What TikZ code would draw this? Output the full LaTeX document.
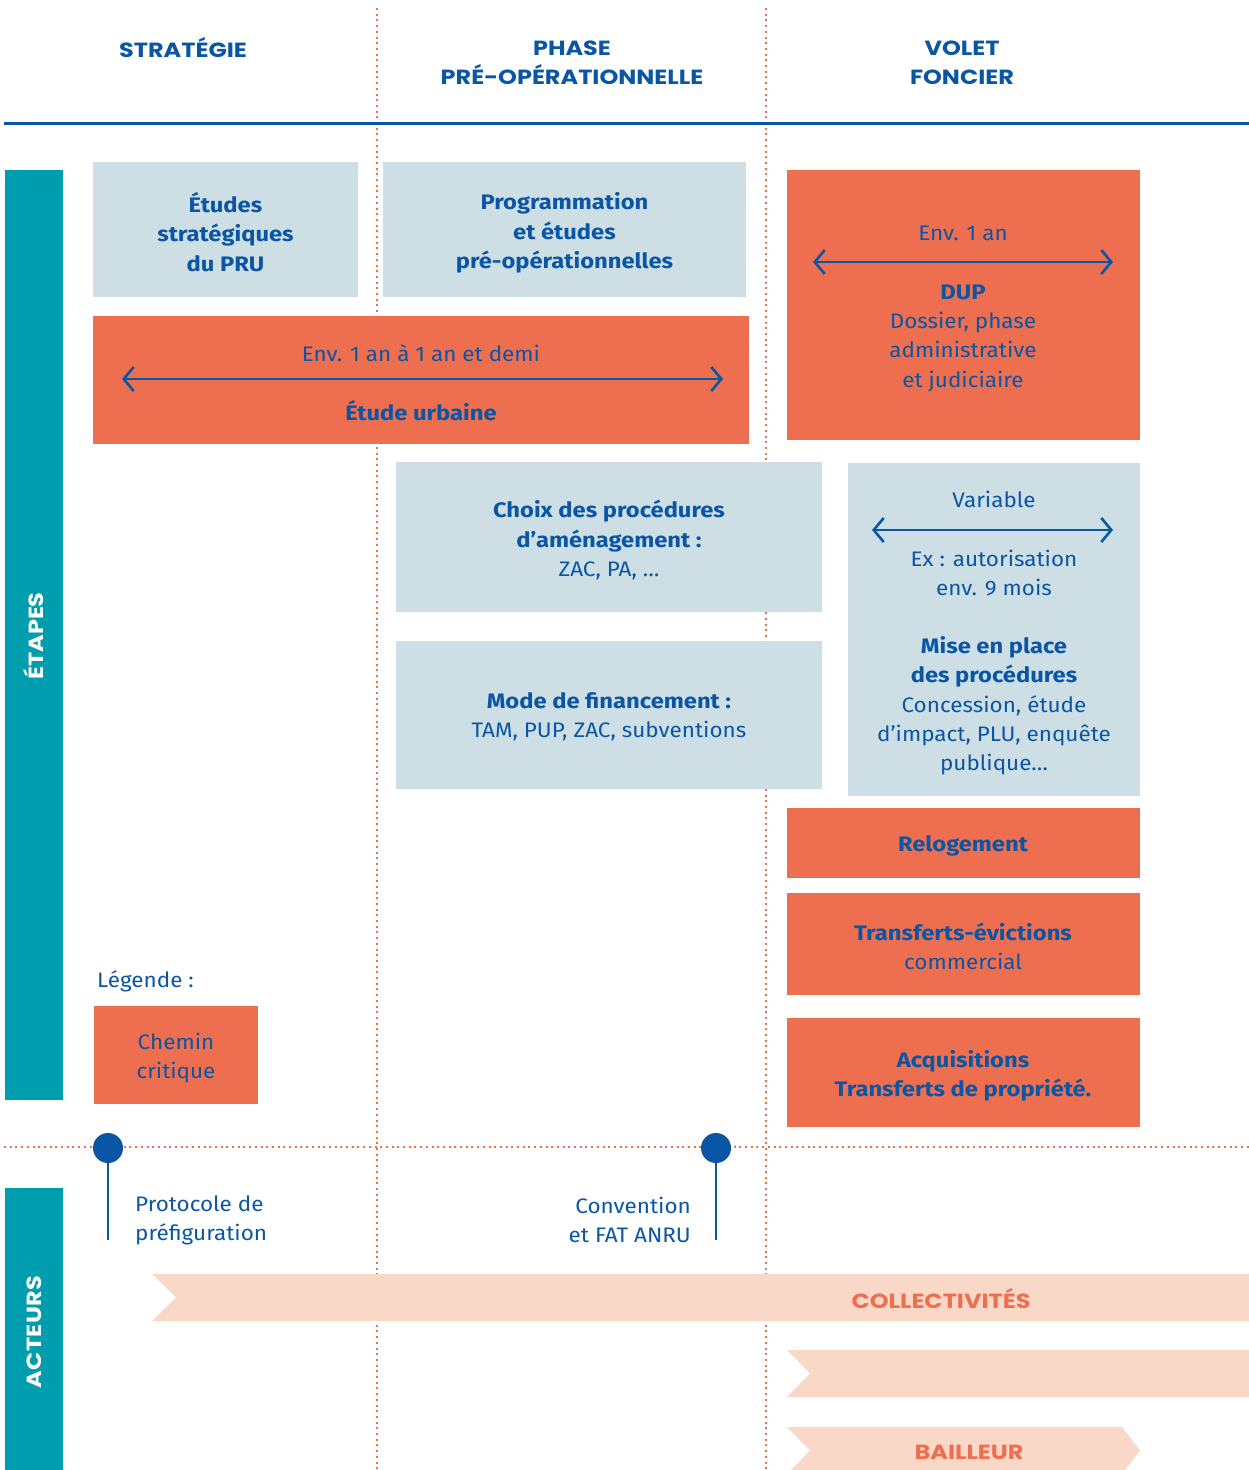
\documentclass[tikz,border=0pt]{standalone}
\usepackage{fontspec}
\setmainfont{Fira Sans}[FakeStretch=1.07, BoldFeatures={FakeStretch=1.13}]
\newfontfamily\hdrfont{Poppins}[FakeStretch=1.17]
\usetikzlibrary{arrows.meta}
\definecolor{cblue}{HTML}{0B56A4}
\definecolor{corange}{HTML}{EE6E50}
\definecolor{clight}{HTML}{CDDFE5}
\definecolor{cteal}{HTML}{009DAE}
\definecolor{cpeach}{HTML}{FAD8C8}
\begin{document}
\begin{tikzpicture}[x=1pt,y=-1pt,
  txt/.style={text=cblue, align=center, font=\fontsize{21}{29.3}\selectfont, inner sep=0pt},
  hdr/.style={text=cblue, align=center, font=\hdrfont\fontsize{20.5}{29}\selectfont\bfseries, inner sep=0pt},
  lightbox/.style={fill=clight, draw=none, anchor=north west, inner sep=0pt},
  orangebox/.style={fill=corange, draw=none, anchor=north west, inner sep=0pt},
  tealbar/.style={fill=cteal, draw=none, anchor=north west, inner sep=0pt},
  dotline/.style={corange, line width=2pt, dash pattern=on 2pt off 3.7pt},
  durarrow/.style={cblue, line width=2.6pt, {Straight Barb[length=10pt,width=24pt,line width=2.6pt]}-{Straight Barb[length=10pt,width=24pt,line width=2.6pt]}},
  milestone/.style={circle, fill=cblue, minimum size=30pt, inner sep=0pt},
  stem/.style={cblue, line width=2.8pt},
  actor/.style={text=corange, font=\hdrfont\fontsize{20.5}{24}\selectfont\bfseries, inner sep=0pt}
]
\useasboundingbox (0,0) rectangle (1249,1470);
\fill[white] (0,0) rectangle (1249,1470);

% dotted grid lines (behind everything)
\draw[dotline] (377,8) -- (377,1470);
\draw[dotline] (766,8) -- (766,1470);
\draw[dotline] (4,1147) -- (1249,1147);

% header
\node[hdr] (hstrat) at (183,48) {STRATÉGIE};
\node[hdr] (hphase) at (572,62.5) {PHASE\\PRÉ-OPÉRATIONNELLE};
\node[hdr] (hvolet) at (962,62.5) {VOLET\\FONCIER};
\draw[cblue, line width=3pt] (4,123) -- (1249,123);

% teal side bars
\node[tealbar, minimum width=58pt, minimum height=930pt] (etapesbar) at (5,170) {};
\node[white, font=\hdrfont\fontsize{20.5}{24}\selectfont\bfseries, rotate=90, inner sep=0pt] (etapes) at (34,636) {ÉTAPES};
\node[tealbar, minimum width=58pt, minimum height=282pt] (acteursbar) at (5,1188) {};
\node[white, font=\hdrfont\fontsize{20.5}{24}\selectfont\bfseries\addfontfeatures{LetterSpace=2}, rotate=90, inner sep=0pt] (acteurs) at (34,1332) {ACTEURS};

% Études stratégiques
\node[lightbox, minimum width=265pt, minimum height=135pt] (bstrat) at (93,162) {};
\node[txt, font=\fontsize{21}{29.3}\selectfont\bfseries] (tstrat) at (225.5,232) {Études\\stratégiques\\du PRU};

% Programmation
\node[lightbox, minimum width=363pt, minimum height=135pt] (bprog) at (383,162) {};
\node[txt, font=\fontsize{21}{29.3}\selectfont\bfseries] (tprog) at (564.5,233) {Programmation\\et études\\pré-opérationnelles};

% Étude urbaine
\node[orangebox, minimum width=656pt, minimum height=128pt] (burb) at (93,316) {};
\node[txt] (turbdur) at (421,353) {Env. 1 an à 1 an et demi};
\coordinate (urbL) at (122,379);
\coordinate (urbR) at (723,379);
\draw[durarrow] (urbL) -- (urbR);
\node[txt, font=\fontsize{21}{29.3}\selectfont\bfseries] (turb) at (421,411) {Étude urbaine};

% DUP
\node[orangebox, minimum width=353pt, minimum height=270pt] (bdup) at (787,170) {};
\node[txt] (tdupdur) at (963,233) {Env. 1 an};
\coordinate (dupL) at (813,262);
\coordinate (dupR) at (1113,262);
\draw[durarrow] (dupL) -- (dupR);
\node[txt] (tdup) at (963,338) {\textbf{DUP}\\Dossier, phase\\administrative\\et judiciaire};

% Choix des procédures
\node[lightbox, minimum width=426pt, minimum height=150pt] (bchoix) at (396,462) {};
\node[txt] (tchoix) at (609,540) {\textbf{Choix des procédures}\\\textbf{d’aménagement :}\\ZAC, PA, …};

% Mode de financement
\node[lightbox, minimum width=426pt, minimum height=148pt] (bfin) at (396,641) {};
\node[txt] (tfin) at (609,717) {\textbf{Mode de financement :}\\TAM, PUP, ZAC, subventions};

% Variable / Mise en place
\node[lightbox, minimum width=292pt, minimum height=333pt] (bmise) at (848,463) {};
\node[txt] (tvar) at (994,499) {Variable};
\coordinate (varL) at (872,530);
\coordinate (varR) at (1113,530);
\draw[durarrow] (varL) -- (varR);
\node[txt] (tex) at (994,573) {Ex : autorisation\\env. 9 mois};
\node[txt] (tmise) at (994,706) {\textbf{Mise en place}\\\textbf{des procédures}\\Concession, étude\\d’impact, PLU, enquête\\publique…};

% Relogement
\node[orangebox, minimum width=353pt, minimum height=70pt] (breloc) at (787,808) {};
\node[txt, font=\fontsize{21}{29.3}\selectfont\bfseries] (treloc) at (963,846) {Relogement};

% Transferts-évictions
\node[orangebox, minimum width=353pt, minimum height=102pt] (bevic) at (787,893) {};
\node[txt] (tevic) at (963,946.5) {\textbf{Transferts-évictions}\\commercial};

% Acquisitions
\node[orangebox, minimum width=353pt, minimum height=109pt] (bacq) at (787,1018) {};
\node[txt, font=\fontsize{21}{29.3}\selectfont\bfseries] (tacq) at (963,1076) {Acquisitions\\Transferts de propriété.};

% Légende
\node[txt, anchor=west] (tleg) at (97,981) {Légende :};
\node[orangebox, minimum width=164pt, minimum height=98pt] (bleg) at (94,1006) {};
\node[txt] (tlegc) at (176,1058) {Chemin\\critique};

% milestones
\node[milestone] (m1) at (108,1148) {};
\coordinate (m1end) at (108,1240);
\draw[stem] (m1) -- (m1end);
\node[txt, align=left, anchor=west] (tm1) at (135,1220) {Protocole de\\préfiguration};
\node[milestone] (m2) at (716,1148) {};
\coordinate (m2end) at (716,1240);
\draw[stem] (m2) -- (m2end);
\node[txt, align=right, anchor=east] (tm2) at (691,1220) {Convention\\et FAT ANRU};

% actors chevrons
\fill[cpeach] (152,1274) -- (1249,1274) -- (1249,1321) -- (152,1321) -- (176,1297.5) -- cycle;
\node[actor] (tcoll) at (941,1299) {COLLECTIVITÉS};
\fill[cpeach] (787,1350) -- (1249,1350) -- (1249,1397) -- (787,1397) -- (810,1373.5) -- cycle;
\fill[cpeach] (787,1427) -- (1122,1427) -- (1140,1450.5) -- (1122,1474) -- (787,1474) -- (810,1450.5) -- cycle;
\node[actor] (tbail) at (969,1452) {BAILLEUR};
\end{tikzpicture}
\end{document}
